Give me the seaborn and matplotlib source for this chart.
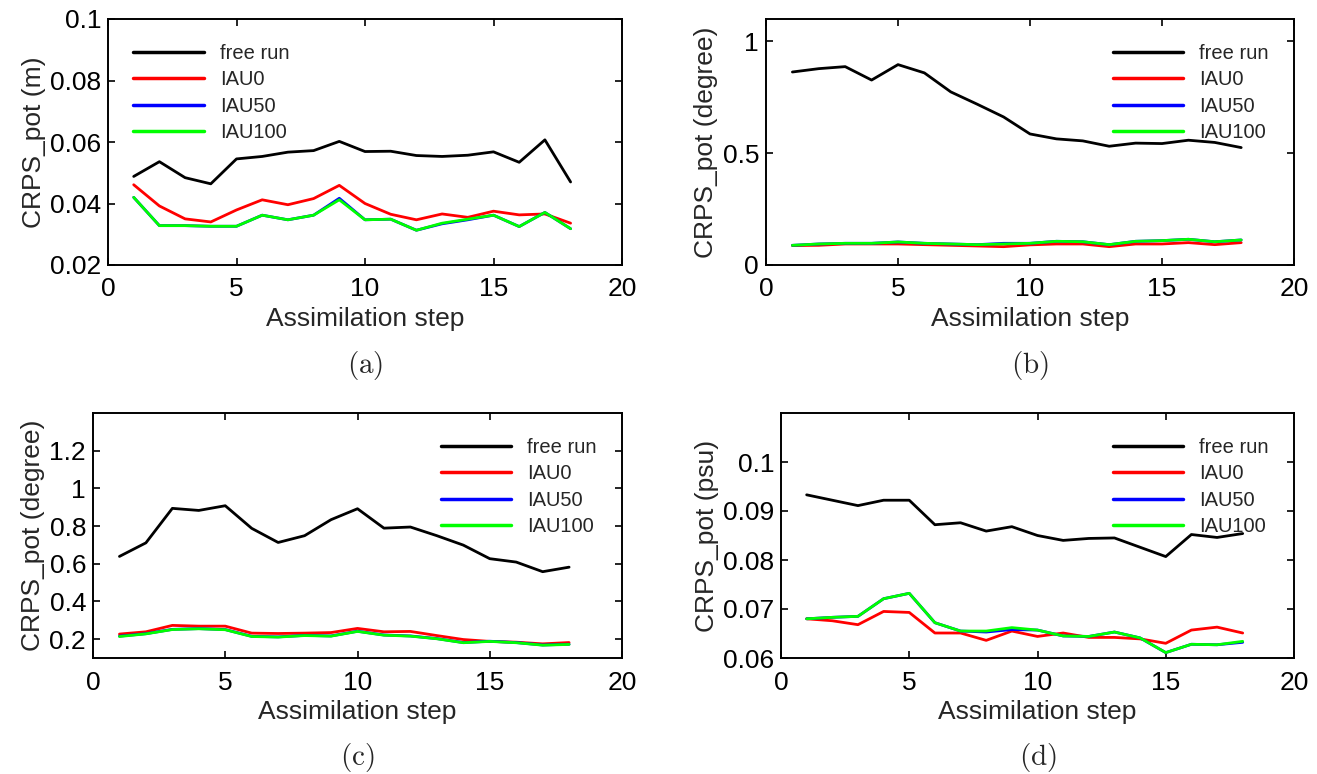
import numpy as np
import pandas as pd
import seaborn as sns
import matplotlib
matplotlib.use("Agg")
import matplotlib.pyplot as plt

steps = list(range(1, 19))
series_names = ["free run", "IAU0", "IAU50", "IAU100"]
series_colors = ["#000000", "#ff0000", "#0000ff", "#00ff00"]

# (a) sea surface height
ssh_free = [0.0488, 0.0536, 0.0484, 0.0464, 0.0545, 0.0553, 0.0567, 0.0572, 0.0602,
            0.0569, 0.0570, 0.0556, 0.0553, 0.0557, 0.0568, 0.0534, 0.0607, 0.0470]
ssh_iau0 = [0.0461, 0.0392, 0.0350, 0.0340, 0.0379, 0.0412, 0.0396, 0.0416, 0.0459,
            0.0400, 0.0365, 0.0347, 0.0366, 0.0355, 0.0375, 0.0363, 0.0366, 0.0336]
ssh_iau50 = [0.0420, 0.0328, 0.0328, 0.0326, 0.0326, 0.0362, 0.0347, 0.0362, 0.0417,
             0.0347, 0.0349, 0.0313, 0.0334, 0.0347, 0.0362, 0.0325, 0.0371, 0.0318]
ssh_iau100 = [0.0420, 0.0328, 0.0328, 0.0326, 0.0326, 0.0362, 0.0347, 0.0362, 0.0412,
              0.0347, 0.0349, 0.0313, 0.0336, 0.0349, 0.0362, 0.0325, 0.0371, 0.0318]

# (b) sea surface temperature
sst_free = [0.863, 0.878, 0.887, 0.827, 0.896, 0.859, 0.774, 0.719, 0.662,
            0.586, 0.564, 0.555, 0.531, 0.545, 0.543, 0.558, 0.548, 0.525]
sst_iau0 = [0.087, 0.088, 0.094, 0.094, 0.094, 0.091, 0.088, 0.085, 0.082,
            0.090, 0.094, 0.094, 0.082, 0.094, 0.094, 0.100, 0.091, 0.100]
sst_iau50 = [0.088, 0.094, 0.097, 0.097, 0.103, 0.097, 0.094, 0.091, 0.097,
             0.097, 0.106, 0.104, 0.091, 0.106, 0.109, 0.115, 0.104, 0.112]
sst_iau100 = [0.088, 0.094, 0.097, 0.097, 0.103, 0.097, 0.094, 0.091, 0.094,
              0.097, 0.106, 0.104, 0.091, 0.106, 0.109, 0.115, 0.104, 0.112]

# (c) temperature profiles
temp_free = [0.639, 0.711, 0.894, 0.883, 0.908, 0.788, 0.713, 0.749, 0.834,
             0.892, 0.789, 0.795, 0.749, 0.699, 0.627, 0.609, 0.558, 0.582]
temp_iau0 = [0.227, 0.239, 0.273, 0.269, 0.269, 0.232, 0.230, 0.232, 0.235,
             0.257, 0.239, 0.241, 0.219, 0.198, 0.188, 0.184, 0.175, 0.182]
temp_iau50 = [0.216, 0.229, 0.252, 0.256, 0.251, 0.215, 0.212, 0.220, 0.217,
              0.242, 0.222, 0.217, 0.203, 0.182, 0.189, 0.182, 0.169, 0.173]
temp_iau100 = [0.214, 0.228, 0.251, 0.255, 0.250, 0.214, 0.211, 0.219, 0.216,
               0.241, 0.221, 0.216, 0.202, 0.181, 0.188, 0.181, 0.168, 0.172]

# (d) salinity profiles
sal_free = [0.0933, 0.0922, 0.0911, 0.0922, 0.0922, 0.0872, 0.0876, 0.0859, 0.0868,
            0.0850, 0.0840, 0.0844, 0.0845, 0.0826, 0.0807, 0.0852, 0.0846, 0.0854]
sal_iau0 = [0.0680, 0.0676, 0.0668, 0.0695, 0.0693, 0.0651, 0.0651, 0.0636, 0.0655,
            0.0644, 0.0651, 0.0642, 0.0642, 0.0639, 0.0630, 0.0657, 0.0663, 0.0651]
sal_iau50 = [0.0680, 0.0683, 0.0685, 0.0721, 0.0732, 0.0672, 0.0655, 0.0653, 0.0658,
             0.0657, 0.0645, 0.0644, 0.0653, 0.0641, 0.0611, 0.0628, 0.0627, 0.0632]
sal_iau100 = [0.0680, 0.0683, 0.0685, 0.0721, 0.0732, 0.0672, 0.0655, 0.0655, 0.0662,
              0.0657, 0.0645, 0.0644, 0.0653, 0.0641, 0.0611, 0.0628, 0.0627, 0.0634]

panels = [
    dict(data=[ssh_free, ssh_iau0, ssh_iau50, ssh_iau100], ylabel="CRPS_pot (m)",
         ylim=(0.02, 0.1), yticks=[0.02, 0.04, 0.06, 0.08, 0.1],
         yticklabels=["0.02", "0.04", "0.06", "0.08", "0.1"], caption="(a)",
         rect=[108, 19, 622, 265], legend_loc="upper left"),
    dict(data=[sst_free, sst_iau0, sst_iau50, sst_iau100], ylabel="CRPS_pot (degree)",
         ylim=(0, 1.1), yticks=[0, 0.5, 1], yticklabels=["0", "0.5", "1"], caption="(b)",
         rect=[766, 19, 1294, 265], legend_loc="upper right"),
    dict(data=[temp_free, temp_iau0, temp_iau50, temp_iau100], ylabel="CRPS_pot (degree)",
         ylim=(0.1, 1.4), yticks=[0.2, 0.4, 0.6, 0.8, 1.0, 1.2],
         yticklabels=["0.2", "0.4", "0.6", "0.8", "1", "1.2"], caption="(c)",
         rect=[93, 413, 622, 658], legend_loc="upper right"),
    dict(data=[sal_free, sal_iau0, sal_iau50, sal_iau100], ylabel="CRPS_pot (psu)",
         ylim=(0.06, 0.11), yticks=[0.06, 0.07, 0.08, 0.09, 0.1],
         yticklabels=["0.06", "0.07", "0.08", "0.09", "0.1"], caption="(d)",
         rect=[781, 413, 1294, 658], legend_loc="upper right"),
]

sns.set_style("ticks")
plt.rcParams["font.family"] = ["Liberation Sans", "DejaVu Sans"]
plt.rcParams["mathtext.fontset"] = "cm"

W, H = 1317, 774
fig = plt.figure(figsize=(W / 100, H / 100), dpi=100)

for p in panels:
    x0, y0, x1, y1 = p["rect"]
    ax = fig.add_axes([x0 / W, 1 - y1 / H, (x1 - x0) / W, (y1 - y0) / H])
    frames = []
    for name, vals in zip(series_names, p["data"]):
        frames.append(pd.DataFrame({"step": steps, "value": vals, "run": name}))
    df = pd.concat(frames, ignore_index=True)
    sns.lineplot(data=df, x="step", y="value", hue="run", hue_order=series_names,
                 palette=series_colors, linewidth=2.0, ax=ax, legend=True)
    ax.set_xlim(0, 20)
    ax.set_xticks([0, 5, 10, 15, 20])
    ax.set_ylim(*p["ylim"])
    ax.set_yticks(p["yticks"])
    ax.set_yticklabels(p["yticklabels"])
    ax.tick_params(direction="in", length=5, width=1.2, top=True, right=True,
                   labelsize=19, colors="black")
    ax.tick_params(axis="x", pad=9)
    ax.tick_params(axis="y", pad=5)
    for s in ax.spines.values():
        s.set_linewidth(1.4)
        s.set_color("black")
        s.set_visible(True)
    ax.set_xlabel("Assimilation step", fontsize=19, labelpad=4)
    ax.set_ylabel(p["ylabel"], fontsize=19, labelpad=3)
    leg = ax.legend(loc=p["legend_loc"], frameon=False, fontsize=14.5,
                    handlelength=3.5, labelspacing=0.36, handletextpad=0.8,
                    borderaxespad=0.85)
    for line in leg.get_lines():
        line.set_linewidth(2.5)
    xc = (x0 + x1) / 2 / W
    fig.text(xc, 1 - (y1 + 100) / H, r"$\mathrm{" + p["caption"] + "}$",
             ha="center", va="center", fontsize=21)

fig.savefig("out.png", dpi=100, facecolor="white")
